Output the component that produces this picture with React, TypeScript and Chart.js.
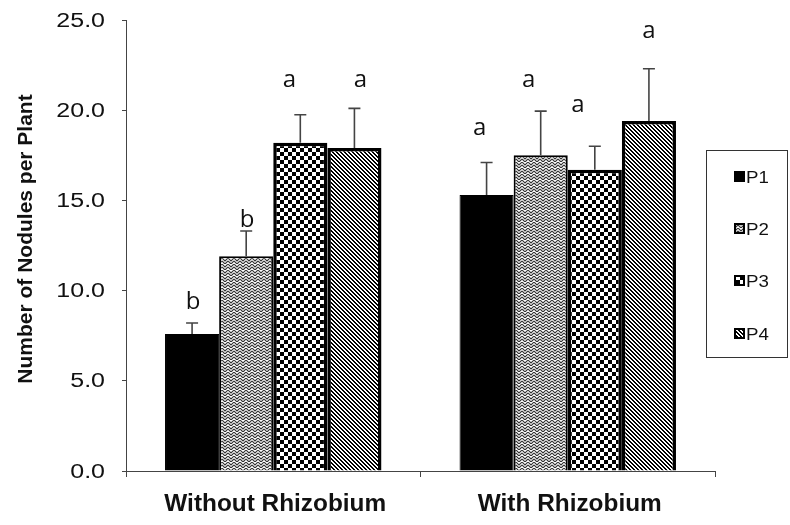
import React, { useEffect, useRef } from "react";
import { Chart, registerables } from "chart.js";

Chart.register(...registerables);

// ---- data ----
const categories = ["Without Rhizobium", "With Rhizobium"];
const seriesNames = ["P1", "P2", "P3", "P4"];

const p1Values = [7.6, 15.3];
const p2Values = [11.9, 17.5];
const p3Values = [18.2, 16.7];
const p4Values = [17.9, 19.4];

const p1Errors = [0.6, 1.8];
const p2Errors = [1.4, 2.45];
const p3Errors = [1.55, 1.3];
const p4Errors = [2.2, 2.9];

const p1Letters = ["b", "a"];
const p2Letters = ["b", "a"];
const p3Letters = ["a", "a"];
const p4Letters = ["a", "a"];

// heights (in axis units) of the letter baselines
const p1LetterAt = [9.0, 18.6];
const p2LetterAt = [13.5, 21.3];
const p3LetterAt = [21.3, 19.9];
const p4LetterAt = [21.3, 24.0];

const yMin = 0;
const yMax = 25;
const yStep = 5;

// ---- layout / style constants ----
const LETTER_DX = [
  [1, -7],
  [1, -12],
  [-11, -17],
  [6, 0],
];
const BORDER_WIDTHS = [1, 2, 3.5, 3.5];

function makeTile(w: number, h: number, draw: (c: CanvasRenderingContext2D) => void) {
  const cv = document.createElement("canvas");
  cv.width = w;
  cv.height = h;
  const c = cv.getContext("2d")!;
  draw(c);
  return cv;
}

function makePatterns(ctx: CanvasRenderingContext2D) {
  const zig = makeTile(6, 6, (c) => {
    c.fillStyle = "#fff";
    c.fillRect(0, 0, 6, 6);
    c.strokeStyle = "#333";
    c.lineWidth = 1.1;
    c.beginPath();
    c.moveTo(0, 0);
    c.lineTo(3, 3);
    c.lineTo(6, 0);
    c.moveTo(0, 3);
    c.lineTo(3, 6);
    c.lineTo(6, 3);
    c.stroke();
  });
  const check = makeTile(8, 8, (c) => {
    c.fillStyle = "#fff";
    c.fillRect(0, 0, 8, 8);
    c.fillStyle = "#000";
    c.fillRect(0, 0, 4, 4);
    c.fillRect(4, 4, 4, 4);
  });
  const stripe = makeTile(4, 4, (c) => {
    c.fillStyle = "#fff";
    c.fillRect(0, 0, 4, 4);
    c.fillStyle = "#000";
    for (let y = 0; y < 4; y++)
      for (let x = 0; x < 4; x++) if ((x - y + 8) % 4 < 2) c.fillRect(x, y, 1, 1);
  });
  return [
    "#000000",
    ctx.createPattern(zig, "repeat")!,
    ctx.createPattern(check, "repeat")!,
    ctx.createPattern(stripe, "repeat")!,
  ];
}

function stretchedText(
  ctx: CanvasRenderingContext2D,
  text: string,
  x: number,
  y: number,
  font: string,
  align: CanvasTextAlign,
  baseline: CanvasTextBaseline,
  sx: number,
  sy = 1,
  rot = 0
) {
  ctx.save();
  ctx.translate(x, y);
  if (rot) ctx.rotate(rot);
  ctx.scale(sx, sy);
  ctx.font = font;
  ctx.textAlign = align;
  ctx.textBaseline = baseline;
  ctx.fillText(text, 0, 0);
  ctx.restore();
}

const allValues = [p1Values, p2Values, p3Values, p4Values];
const allErrors = [p1Errors, p2Errors, p3Errors, p4Errors];
const allLetters = [p1Letters, p2Letters, p3Letters, p4Letters];
const allLetterAt = [p1LetterAt, p2LetterAt, p3LetterAt, p4LetterAt];

export default function App() {
  const ref = useRef<HTMLCanvasElement>(null);

  useEffect(() => {
    const canvas = ref.current!;
    const ctx = canvas.getContext("2d")!;
    const fills = makePatterns(ctx);

    const overlay = {
      id: "overlay",
      afterDatasetsDraw(chart: any) {
        const c = chart.ctx as CanvasRenderingContext2D;
        const ys = chart.scales.y;
        chart.data.datasets.forEach((ds: any, i: number) => {
          const meta = chart.getDatasetMeta(i);
          meta.data.forEach((bar: any, j: number) => {
            const v = ds.data[j];
            const top = ys.getPixelForValue(v);
            const et = ys.getPixelForValue(v + allErrors[i][j]);
            c.save();
            c.strokeStyle = "#444";
            c.lineWidth = 1.6;
            c.beginPath();
            c.moveTo(bar.x, top);
            c.lineTo(bar.x, et);
            c.moveTo(bar.x - 6, et);
            c.lineTo(bar.x + 6, et);
            c.stroke();
            c.restore();
            c.fillStyle = "#111";
            stretchedText(
              c,
              allLetters[i][j],
              bar.x + LETTER_DX[i][j],
              ys.getPixelForValue(allLetterAt[i][j]),
              "24px 'Open Sans'",
              "center",
              "alphabetic",
              1
            );
          });
        });
      },
      afterDraw(chart: any) {
        const c = chart.ctx as CanvasRenderingContext2D;
        const ys = chart.scales.y;
        const xs = chart.scales.x;
        c.fillStyle = "#111";
        // y tick labels
        ys.ticks.forEach((t: any, k: number) => {
          stretchedText(
            c,
            Number(t.value).toFixed(1),
            105,
            ys.getPixelForTick(k) + 1,
            "20px 'Liberation Sans'",
            "right",
            "middle",
            1.25
          );
        });
        // x category labels
        chart.data.labels.forEach((lab: string, k: number) => {
          stretchedText(
            c,
            lab,
            xs.getPixelForValue(k) + 2,
            511,
            "bold 23px 'Liberation Sans'",
            "center",
            "alphabetic",
            1.06
          );
        });
        // y title
        stretchedText(
          c,
          "Number of Nodules per Plant",
          32,
          239,
          "bold 21px 'Liberation Sans'",
          "center",
          "alphabetic",
          1.0,
          1,
          -Math.PI / 2
        );
        // legend
        c.save();
        c.strokeStyle = "#333";
        c.lineWidth = 1;
        c.strokeRect(706.5, 150.5, 81, 207);
        const rows = [176.5, 228.5, 280.5, 333.5];
        chart.data.datasets.forEach((ds: any, i: number) => {
          const cy = rows[i];
          c.fillStyle = "#000";
          c.fillRect(734, cy - 5.5, 11, 11);
          if (i > 0) {
            c.fillStyle = ds.backgroundColor;
            c.fillRect(736, cy - 3.5, 7, 7);
          }
          c.fillStyle = "#111";
          stretchedText(c, ds.label, 746, cy + 6.5, "17px 'Liberation Sans'", "left", "alphabetic", 1.1);
        });
        c.restore();
      },
    };

    const chart = new Chart(canvas, {
      type: "bar",
      data: {
        labels: categories,
        datasets: seriesNames.map((name, i) => ({
          label: name,
          data: allValues[i],
          backgroundColor: fills[i] as any,
          borderColor: "#000",
          borderWidth: BORDER_WIDTHS[i],
          barPercentage: 1,
          categoryPercentage: 0.735,
        })),
      },
      options: {
        animation: false,
        responsive: false,
        maintainAspectRatio: false,
        layout: { padding: { left: 0, right: 75, top: 20, bottom: 0 } },
        plugins: { legend: { display: false }, tooltip: { enabled: false } },
        scales: {
          x: {
            grid: {
              display: true,
              drawOnChartArea: false,
              drawTicks: true,
              tickLength: 6,
              offset: true,
              color: "#444",
            },
            border: { display: true, color: "#444", width: 1 },
            ticks: { display: false },
            afterFit: (s: any) => {
              s.height = 54;
            },
          },
          y: {
            min: yMin,
            max: yMax,
            ticks: { display: false, stepSize: yStep },
            grid: {
              display: true,
              drawOnChartArea: false,
              drawTicks: true,
              tickLength: 4,
              color: "#444",
            },
            border: { display: true, color: "#444", width: 1 },
            afterFit: (s: any) => {
              s.width = 126;
            },
          },
        },
      },
      plugins: [overlay],
    });
    return () => chart.destroy();
  }, []);

  return (
    <div style={{ position: "absolute", left: 0, top: 0, width: 790, height: 525 }}>
      <canvas ref={ref} width={790} height={525} style={{ display: "block" }} />
    </div>
  );
}
